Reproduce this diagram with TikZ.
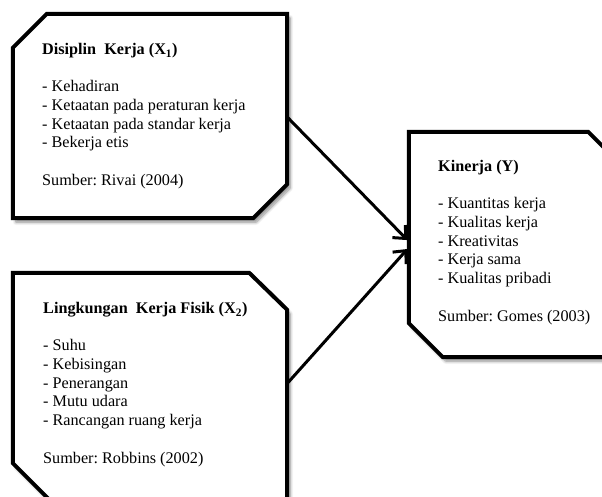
\documentclass[tikz,border=0pt]{standalone}
\usepackage{fontspec}
\setmainfont{Liberation Serif}
\usetikzlibrary{arrows.meta,shadows.blur}
\begin{document}
\frenchspacing
\begin{tikzpicture}[x=1pt,y=-1pt,
  frame/.style={inner sep=0pt, draw=none},
  boxline/.style={line width=4pt, line join=miter, fill=white,
    blur shadow={shadow xshift=3pt, shadow yshift=-4pt, shadow blur radius=3pt,
      shadow blur steps=8, shadow opacity=45}},
  txt/.style={inner sep=0pt, anchor=north west, align=left,
    font=\fontsize{16.2pt}{18.7pt}\selectfont},
  arr/.style={line width=3pt, -{Straight Barb[length=10pt,width=18pt]}, shorten >=2pt}]
\useasboundingbox (0,0) rectangle (602,497);
\clip (0,0) rectangle (602,497);
% box frames
\node[frame, minimum width=274pt, minimum height=204pt] (b1) at (150,116) {};
\node[frame, minimum width=274pt, minimum height=227pt] (b2) at (150,386.5) {};
\node[frame, minimum width=216pt, minimum height=225pt] (b3) at (517,244.5) {};
% octagons
\draw[boxline] ([xshift=34pt]b1.north west) -- (b1.north east) -- ([yshift=34pt]b1.south east)
  -- ([xshift=-34pt]b1.south east) -- (b1.south west) -- ([yshift=-34pt]b1.north west) -- cycle;
\draw[boxline] (b2.north west) -- ([xshift=-38pt]b2.north east) -- ([yshift=-37pt]b2.north east)
  -- (b2.south east) -- ([xshift=37pt]b2.south west) -- ([yshift=37pt]b2.south west) -- cycle;
\draw[boxline] (b3.north west) -- ([xshift=-37pt]b3.north east) -- ([yshift=-37pt]b3.north east)
  -- (b3.south east) -- ([xshift=34pt]b3.south west) -- ([yshift=34pt]b3.south west) -- cycle;
% texts
\node[txt] (t1) at (42,43) {\textbf{Disiplin\ \ Kerja (X\textsubscript{1})}\\[18.7pt]
- Kehadiran\\
- Ketaatan pada peraturan kerja\\
- Ketaatan pada standar kerja\\
- Bekerja etis\\[18.7pt]
Sumber: Rivai (2004)};
\node[txt] (t2) at (43,302) {\textbf{Lingkungan\ \ Kerja Fisik (X\textsubscript{2})}\\[18.7pt]
- Suhu\\
- Kebisingan\\
- Penerangan\\
- Mutu udara\\
- Rancangan\ ruang kerja\\[18.7pt]
Sumber: Robbins (2002)};
\node[txt] (t3) at (438,160) {\textbf{Kinerja\ (Y)}\\[18.7pt]
- Kuantitas kerja\\
- Kualitas kerja\\
- Kreativitas\\
- Kerja sama\\
- Kualitas pribadi\\[18.7pt]
Sumber: Gomes (2003)};
% connectors
\draw[arr] ([yshift=-1pt]b1.east) -- ([yshift=3pt]b3.west);
\draw[arr] ([yshift=3pt]b2.east) -- ([yshift=-3pt]b3.west);
\end{tikzpicture}
\end{document}
